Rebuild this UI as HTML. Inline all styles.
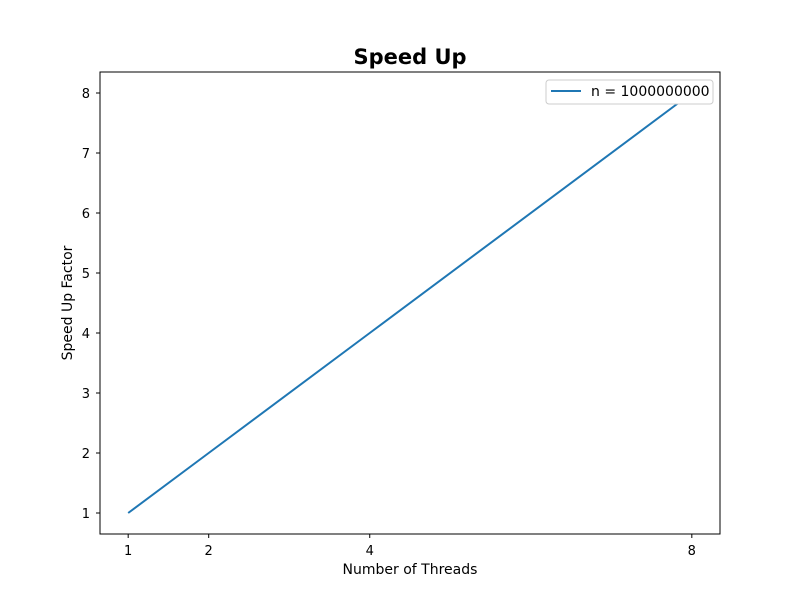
<!DOCTYPE html>
<html><head><meta charset="utf-8"><style>body{margin:0;background:#fff}svg{display:block;font-family:"DejaVu Sans","Liberation Sans",sans-serif}</style></head>
<body>
<svg id="chart" width="800" height="600">
<rect width="800" height="600" fill="#fff"/>
<text x="410" y="64" text-anchor="middle" font-size="21" font-weight="bold">Speed Up</text>
<g id="ticks"></g>
<path id="line" fill="none" stroke="#1f77b4" stroke-width="2"/>
<rect x="100" y="72" width="620" height="462" fill="none" stroke="#000" stroke-width="1"/>
<text x="410" y="574" text-anchor="middle" font-size="14">Number of Threads</text>
<text transform="translate(72,303) rotate(-90)" text-anchor="middle" font-size="14">Speed Up Factor</text>
<g>
<rect x="546" y="80" width="167" height="24" rx="3" fill="#fff" stroke="#ccc"/>
<line x1="551" y1="91" x2="581" y2="91" stroke="#1f77b4" stroke-width="2"/>
<text x="591" y="96" font-size="14">n = 1000000000</text>
</g>
</svg>
<script>
const threads=[1,2,4,8];
const speedup=[1,2,4,8];
const xTicks=[1,2,4,8];
const yTicks=[1,2,3,4,5,6,7,8];
const xs=v=>100+(v-0.65)/(7.7)*620;
const ys=v=>534-(v-0.65)/(7.7)*462;
const ns="http://www.w3.org/2000/svg";
const g=document.getElementById('ticks');
function mk(t,a){const e=document.createElementNS(ns,t);for(const k in a)e.setAttribute(k,a[k]);g.appendChild(e);return e;}
xTicks.forEach(v=>{
 const l=mk('line',{x1:xs(v),x2:xs(v),y1:534,y2:538,stroke:'#000'});
 
 
 const t=mk('text',{x:xs(v),y:555,'text-anchor':'middle','font-size':13});t.textContent=v;
 
 
});
yTicks.forEach(v=>{
 const l=mk('line',{x1:96,x2:100,y1:ys(v),y2:ys(v),stroke:'#000'});
 
 
 const t=mk('text',{x:90,y:ys(v)+5,'text-anchor':'end','font-size':13});t.textContent=v;
 
 
});
document.getElementById('line').setAttribute('d',threads.map((x,i)=>(i?'L':'M')+xs(x)+','+ys(speedup[i])).join(''));
</script>
</body></html>
